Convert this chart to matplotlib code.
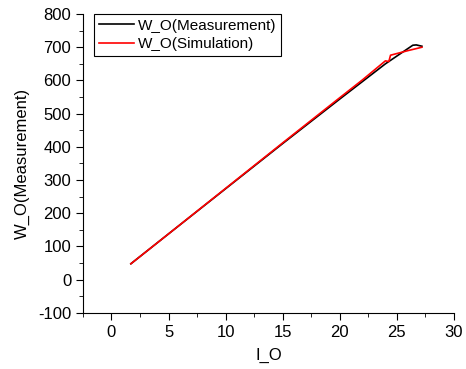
import matplotlib
matplotlib.use('Agg')
import matplotlib.pyplot as plt
from matplotlib.ticker import MultipleLocator

# datos
i_meas = [1.7, 5, 10, 15, 20, 22, 24, 25.5, 26.4, 26.7, 27.2]
w_meas = [48, 138, 274, 410, 544, 597, 650, 685, 706, 707, 703]

i_sim = [1.7, 5, 10, 15, 20, 22, 24, 24.3, 24.45, 26, 27.2]
w_sim = [48, 138, 275, 412, 548, 602, 659, 657, 676, 690, 700]

plt.rcParams['font.family'] = ['Liberation Sans', 'DejaVu Sans']
plt.rcParams['axes.unicode_minus'] = False

fig = plt.figure(figsize=(4.66, 3.69), dpi=100)
ax = fig.add_axes([0.178, 0.152, 0.796, 0.810])

ax.plot(i_meas, w_meas, color='black', linewidth=1.2, label='W_O(Measurement)')
ax.plot(i_sim, w_sim, color='red', linewidth=1.2, label='W_O(Simulation)')

ax.set_xlim(-2.5, 30)
ax.set_ylim(-100, 800)
ax.xaxis.set_major_locator(MultipleLocator(5))
ax.xaxis.set_minor_locator(MultipleLocator(2.5))
ax.yaxis.set_major_locator(MultipleLocator(100))
ax.yaxis.set_minor_locator(MultipleLocator(50))

for s in ['top', 'right']:
    ax.spines[s].set_visible(False)
ax.tick_params(which='major', direction='out', length=5, labelsize=12)
ax.tick_params(which='minor', direction='out', length=3)

ax.set_xlabel('I_O', fontsize=12, labelpad=6)
ax.set_ylabel('W_O(Measurement)', fontsize=12, labelpad=6)

leg = ax.legend(loc='upper left', bbox_to_anchor=(0.03, 1.0), fontsize=11,
                fancybox=False, edgecolor='black', framealpha=1,
                handlelength=2.3, handletextpad=0.3, borderpad=0.3,
                labelspacing=0.3, borderaxespad=0)
leg.get_frame().set_linewidth(0.8)

plt.savefig('out.png', dpi=100)
